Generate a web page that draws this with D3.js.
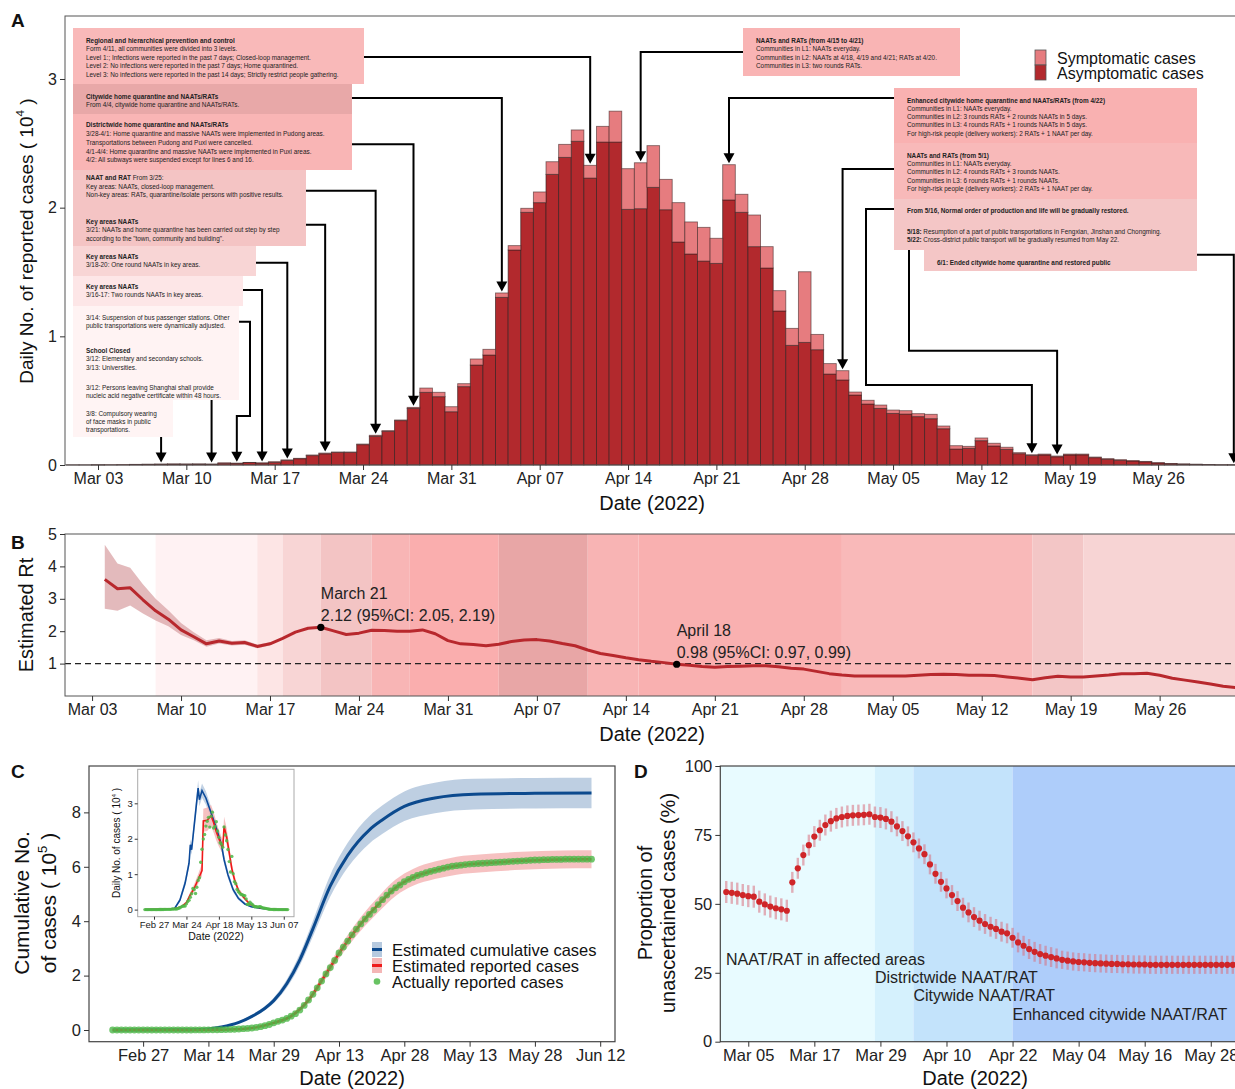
<!DOCTYPE html>
<html>
<head>
<meta charset="utf-8">
<script src="https://cdn.jsdelivr.net/npm/d3@7"></script>
<style>
body { margin: 0; background: #fff; }
svg { display: block; font-family: "Liberation Sans", Arial, sans-serif; }
</style>
</head>
<body>
<script>
// ---------- data ----------
// panel A: daily reported cases (10^4), one value per day from caseStart
var caseStart = '2022-03-01';
var asymptomatic = [0.001,0.001,0.001,0.002,0.003,0.004,0.005,0.006,0.007,0.006,0.007,
  0.006,0.013,0.013,0.019,0.015,0.020,0.037,0.049,0.073,0.087,0.098,0.098,0.158,0.223,0.262,0.345,0.440,0.565,0.531,0.414,
  0.609,0.777,0.855,1.303,1.671,1.964,2.039,2.259,2.391,2.516,2.230,2.510,2.510,1.987,1.992,2.158,1.984,1.733,1.640,1.585,1.567,2.060,1.964,1.697,1.531,1.197,0.930,0.953,0.896,0.707,
  0.661,0.544,0.474,0.440,0.401,0.396,0.376,0.360,0.282,0.124,0.130,0.189,0.148,0.122,0.088,0.074,0.078,0.064,0.078,0.079,0.057,0.045,0.037,0.031,0.025,0.016,0.010,0.007,0.005,0.003,0.001,
  0.001];
var symptomatic = [0,0,0.001,0,0,0.001,0.001,0.001,0.001,0.002,0.001,
  0.001,0.004,0.001,0.001,0.001,0.006,0.002,0.003,0.005,0.006,0.003,0.003,0.005,0.008,0.005,0.005,0.008,0.033,0.034,0.039,
  0.023,0.047,0.044,0.034,0.034,0.031,0.083,0.098,0.101,0.088,0.099,0.122,0.240,0.316,0.357,0.324,0.236,0.306,0.249,0.262,0.195,0.274,0.140,0.246,0.166,0.158,0.132,0.549,0.119,0.081,
  0.072,0.023,0.029,0.026,0.026,0.026,0.023,0.034,0.021,0.026,0.015,0.021,0.021,0.016,0.008,0.006,0.007,0.006,0.007,0.006,0.005,0.004,0.004,0.003,0.003,0.002,0.002,0.001,0.001,0.001,0.001,
  0.001];
var ticksAB = ['2022-03-03','2022-03-10','2022-03-17','2022-03-24','2022-03-31','2022-04-07','2022-04-14','2022-04-21','2022-04-28','2022-05-05','2022-05-12','2022-05-19','2022-05-26'];
var ticksA_y = [0, 1, 2, 3];

// panel B: estimated Rt, daily from rtStart
var rtStart = '2022-03-04';
var rt = [3.60,3.31,3.34,2.97,2.63,2.37,2.04,1.83,1.61,1.70,1.63,1.65,1.53,1.61,1.78,1.97,2.09,2.12,2.01,1.90,1.94,2.03,2.02,2.00,2.00,2.04,1.92,1.71,
  1.61,1.59,1.55,1.60,1.68,1.73,1.74,1.70,1.62,1.55,1.42,1.31,1.25,1.18,1.12,1.07,1.03,0.98,0.95,0.91,0.89,0.91,0.92,0.93,0.93,0.90,0.86,0.83,0.76,0.69,
  0.65,0.62,0.62,0.62,0.62,0.62,0.64,0.66,0.67,0.66,0.64,0.64,0.63,0.59,0.55,0.50,0.56,0.61,0.59,0.59,0.62,0.65,0.69,0.69,0.70,0.64,0.55,0.49,0.43,0.37,0.30,
  0.26];
var rtLow  = [2.69,2.63,2.79,2.55,2.33,2.15,1.88,1.72,1.52,1.62,1.56,1.58,1.47,1.56];
var rtHigh = [4.67,4.09,3.96,3.45,3.00,2.65,2.25,1.97,1.72,1.79,1.70,1.72,1.59,1.66];
var ticksB_y = [1, 2, 3, 4, 5];
var rtPhaseStart = ['2022-03-08','2022-03-16','2022-03-18','2022-03-21','2022-03-25','2022-03-28','2022-04-04','2022-04-11','2022-04-15','2022-05-01','2022-05-16','2022-05-20'];
var rtPhaseEnd   = ['2022-03-16','2022-03-18','2022-03-21','2022-03-25','2022-03-28','2022-04-04','2022-04-11','2022-04-15','2022-05-01','2022-05-16','2022-05-20','2022-06-05'];
var rtMarks = [{date:'2022-03-21', value:2.12, label1:'March 21', label2:'2.12 (95%CI: 2.05, 2.19)'},
               {date:'2022-04-18', value:0.98, label1:'April 18', label2:'0.98 (95%CI: 0.97, 0.99)'}];

// panel C: cumulative cases (10^5)
var cumStart = '2022-02-20';
var reportedCum = [0,0,0,0,0,0,0,0,0,
  0,0,0,0,0,0,0,0.001,0.001,
  0.001,0.002,0.002,0.004,0.005,0.007,0.009,0.011,0.015,0.020,0.028,0.037,0.047,0.057,0.073,0.096,0.123,0.158,0.203,0.263,0.319,0.364,
  0.427,0.509,0.599,0.733,0.904,1.103,1.315,1.551,1.800,2.061,2.294,2.557,2.830,3.05,3.27,3.50,3.71,3.90,4.08,4.25,4.41,4.61,4.79,4.96,5.11,5.23,5.33,5.45,5.54,5.61,
  5.68,5.73,5.78,5.83,5.87,5.91,5.95,5.99,6.02,6.04,6.06,6.08,6.10,6.11,6.12,6.13,6.14,6.15,6.16,6.17,6.18,6.19,6.20,6.21,6.22,6.23,6.24,6.25,6.25,6.26,6.26,
  6.27,6.27,6.27,6.28,6.28,6.28,6.28,6.28,6.28,6.28];
var estCumDates = ['2022-02-20','2022-03-10','2022-03-14','2022-03-17','2022-03-21','2022-03-24','2022-03-27','2022-03-29','2022-04-01','2022-04-04','2022-04-07','2022-04-11','2022-04-15','2022-04-20','2022-04-23','2022-04-28','2022-05-05','2022-05-14','2022-05-28','2022-06-10'];
var estCum     = [0,0.01,0.04,0.11,0.28,0.50,0.80,1.08,1.70,2.58,3.72,5.30,6.42,7.36,7.73,8.22,8.53,8.67,8.70,8.71];
var estCumLow  = [0,0.005,0.03,0.09,0.24,0.45,0.73,0.98,1.55,2.37,3.44,4.91,5.97,6.86,7.21,7.68,7.97,8.11,8.14,8.15];
var estCumHigh = [0,0.015,0.05,0.13,0.32,0.56,0.88,1.19,1.86,2.80,4.01,5.70,6.88,7.87,8.26,8.77,9.09,9.24,9.26,9.27];
var repCumDates = ['2022-02-20','2022-03-14','2022-03-20','2022-03-25','2022-03-29','2022-04-02','2022-04-06','2022-04-10','2022-04-14','2022-04-18','2022-04-22','2022-04-26','2022-04-30','2022-05-05','2022-05-10','2022-05-16','2022-05-25','2022-06-03','2022-06-10'];
var repCum     = [0,0.004,0.027,0.096,0.26,0.51,1.10,2.06,3.05,3.90,4.61,5.23,5.61,5.87,6.04,6.13,6.22,6.27,6.28];
var repCumLow  = [0,0.003,0.02,0.08,0.23,0.46,1.00,1.90,2.85,3.65,4.33,4.93,5.30,5.55,5.71,5.80,5.89,5.94,5.95];
var repCumHigh = [0,0.006,0.035,0.11,0.29,0.56,1.20,2.22,3.25,4.15,4.89,5.53,5.92,6.19,6.37,6.46,6.55,6.60,6.61];
var ticksC = ['2022-02-27','2022-03-14','2022-03-29','2022-04-13','2022-04-28','2022-05-13','2022-05-28','2022-06-12'];
var ticksC_y = [0, 2, 4, 6, 8];

// panel C inset: daily cases (10^4)
var insetZerosBefore = [0,0,0,0,0,0,0,0,0];   // Feb 20 - Feb 28
var insetZerosAfter  = [0,0,0,0,0,0,0,0,0];   // Jun 2 - Jun 10
var estDailyDates = ['2022-02-20','2022-03-10','2022-03-15','2022-03-19','2022-03-23','2022-03-26','2022-03-27','2022-03-28','2022-03-31','2022-04-02','2022-04-03','2022-04-05','2022-04-08','2022-04-12','2022-04-16','2022-04-20','2022-04-22','2022-04-25','2022-04-29','2022-05-03','2022-05-08','2022-05-13','2022-05-21','2022-05-29','2022-06-09'];
var estDaily     = [0,0.01,0.04,0.27,0.75,1.31,1.83,1.69,2.73,3.43,3.10,3.36,3.15,2.73,2.30,1.83,1.41,0.98,0.56,0.32,0.16,0.08,0.03,0.01,0];
var estDailyLow  = [0,0.005,0.02,0.22,0.65,1.18,1.68,1.55,2.55,3.22,2.92,3.16,2.96,2.56,2.14,1.69,1.29,0.88,0.49,0.27,0.13,0.06,0.02,0.005,0];
var estDailyHigh = [0,0.02,0.06,0.33,0.87,1.45,1.98,1.85,2.92,3.65,3.30,3.56,3.34,2.90,2.46,1.97,1.54,1.09,0.64,0.38,0.20,0.10,0.04,0.015,0];
var repDailyDates = ['2022-02-20','2022-03-14','2022-03-20','2022-03-24','2022-03-27','2022-03-30','2022-04-02','2022-04-05','2022-04-06','2022-04-09','2022-04-12','2022-04-14','2022-04-16','2022-04-18','2022-04-21','2022-04-22','2022-04-24','2022-04-26','2022-04-28','2022-04-30','2022-05-03','2022-05-07','2022-05-12','2022-05-18','2022-05-25','2022-06-01','2022-06-10'];
var repDaily     = [0,0.02,0.08,0.20,0.42,0.60,0.85,1.10,2.50,2.52,2.65,2.45,2.20,2.00,1.75,2.35,2.05,1.60,1.15,0.85,0.55,0.35,0.15,0.07,0.03,0.01,0];
var repDailyLow  = [0,0.01,0.06,0.16,0.35,0.50,0.72,0.95,2.20,2.22,2.35,2.17,1.95,1.78,1.56,2.10,1.83,1.43,1.02,0.75,0.48,0.30,0.12,0.05,0.02,0.005,0];
var repDailyHigh = [0,0.03,0.10,0.25,0.50,0.72,1.00,1.30,2.85,2.88,2.95,2.75,2.48,2.25,1.96,2.62,2.30,1.80,1.30,0.97,0.63,0.41,0.19,0.09,0.04,0.015,0];
var ticksInset = ['2022-02-27','2022-03-24','2022-04-18','2022-05-13','2022-06-07'];
var ticksInset_y = [0, 1, 2, 3];

// panel D: proportion of unascertained cases (%)
var unascStart = '2022-03-01';
var unascertained = [54.3,54.0,53.7,53.2,52.8,52.6,50.8,49.8,49.0,48.4,48.0,47.5,
  57.8,62.9,67.7,71.3,74.4,76.7,78.6,80.0,81.0,81.5,81.9,82.1,82.2,82.3,82.5,81.5,81.3,80.8,79.8,
  78.1,76.4,74.5,72.3,70.1,68.0,64.3,60.9,58.0,55.6,53.2,51.0,48.6,46.9,45.2,43.9,42.7,41.7,40.9,39.9,39.3,37.7,36.0,34.8,33.6,32.6,31.8,31.2,30.7,30.2,
  29.7,29.4,29.1,28.9,28.8,28.6,28.5,28.4,28.3,28.2,28.2,28.1,28.1,28.0,28.0,28.0,27.9,27.9,27.9,27.9,27.9,27.9,27.9,27.9,27.9,27.9,27.9,27.9,27.9,27.9,27.9,
  27.9];
var unascErr = [4.0,4.0,4.0,4.0,4.0,4.0,4.0,4.0,4.0,4.0,4.0,4.0,
  3.8,3.8,3.8,3.8,3.8,3.8,3.8,3.8,3.8,3.8,3.8,3.8,3.8,3.8,3.8,3.8,3.8,3.8,3.8,
  3.6,3.6,3.6,3.6,3.6,3.6,3.6,3.6,3.6,3.6,3.6,3.6,3.6,3.6,3.6,3.6,3.6,3.6,3.6,3.6,3.6,3.6,3.6,3.6,3.6,3.6,3.6,3.6,3.6,3.6,
  3.3,3.3,3.3,3.3,3.3,3.3,3.3,3.3,3.3,3.3,3.3,3.3,3.3,3.3,3.3,3.3,3.3,3.3,3.3,3.3,3.3,3.3,3.3,3.3,3.3,3.3,3.3,3.3,3.3,3.3,3.3,
  3.3];
var testingPhaseStart = ['2022-02-20','2022-03-28','2022-04-04','2022-04-22'];
var testingPhaseEnd   = ['2022-03-28','2022-04-04','2022-04-22','2022-06-10'];
var testingPhaseLabel = ['NAAT/RAT in affected areas','Districtwide NAAT/RAT','Citywide NAAT/RAT','Enhanced citywide NAAT/RAT'];
var ticksD = ['2022-03-05','2022-03-17','2022-03-29','2022-04-10','2022-04-22','2022-05-04','2022-05-16','2022-05-28'];
var ticksD_y = [0, 25, 50, 75, 100];

// ---------- helpers ----------
var dayMs = 864e5;
var parse = d3.utcParse('%Y-%m-%d');
var fmt = d3.utcFormat('%b %d');
var intFmt = d3.format('d');
var shift = function(s, days){ return new Date(parse(s).getTime() + days * dayMs); };
var nth = function(start, i){ return shift(start, i); };

var svg = d3.select('body').append('svg').attr('width', 1235).attr('height', 1089);

var styleAxis = function(g, size){
    g.select('.domain').remove();
    g.selectAll('.tick line').attr('stroke', '#333').attr('stroke-width', 1);
    g.selectAll('.tick text').attr('fill', '#222').style('font-size', size + 'px')
        .style('font-family', '"Liberation Sans", Arial, sans-serif');
};

var panelLetter = function(t, x, y){
    svg.append('text').attr('x', x).attr('y', y).text(t)
        .style('font-size', '19px').style('font-weight', 'bold').attr('fill', '#111');
};

var supLabel = function(g, x, y, pre, sup, post, size, rotate){
    var t = g.append('text').attr('transform', 'translate(' + x + ',' + y + ')' + (rotate ? ' rotate(-90)' : ''))
        .attr('text-anchor', 'middle').style('font-size', size + 'px').attr('fill', '#111');
    t.append('tspan').text(pre);
    t.append('tspan').text(sup).attr('dy', -size * 0.45).style('font-size', (size * 0.62) + 'px');
    t.append('tspan').text(post).attr('dy', size * 0.45);
    return t;
};

// ================= PANEL A =================
var xA = d3.scaleUtc().domain([shift('2022-03-03', -2.615), shift('2022-03-03', 90.095)]).range([65, 1235]);
var yA = d3.scaleLinear().domain([0, 3.4896]).range([465, 16]);
var gA = svg.append('g');

var caseRows = asymptomatic.map(function(a, i){
    return {date: nth(caseStart, i), asym: a, sym: symptomatic[i]};
});
var bw = xA(shift('2022-03-04', 0)) - xA(parse('2022-03-03'));

gA.selectAll('.asym').data(caseRows).enter().append('rect')
    .attr('x', function(d){ return xA(d.date) - bw / 2; })
    .attr('width', bw)
    .attr('y', function(d){ return yA(d.asym); })
    .attr('height', function(d){ return yA(0) - yA(d.asym); })
    .attr('fill', '#b2292d').attr('stroke', '#3b2222').attr('stroke-opacity', 0.75).attr('stroke-width', 0.9);
gA.selectAll('.sym').data(caseRows).enter().append('rect')
    .attr('x', function(d){ return xA(d.date) - bw / 2; })
    .attr('width', bw)
    .attr('y', function(d){ return yA(d.asym + d.sym); })
    .attr('height', function(d){ return yA(d.asym) - yA(d.asym + d.sym); })
    .attr('fill', '#e67c7f').attr('stroke', '#3b2222').attr('stroke-opacity', 0.6).attr('stroke-width', 0.9);

gA.append('rect').attr('x', 65).attr('y', 16).attr('width', 1180).attr('height', 449)
    .attr('fill', 'none').attr('stroke', '#555').attr('stroke-width', 1);

var axA = gA.append('g').attr('transform', 'translate(0,465)')
    .call(d3.axisBottom(xA).tickValues(ticksAB.map(parse)).tickFormat(fmt).tickSize(5).tickPadding(3));
styleAxis(axA, 16);
var ayA = gA.append('g').attr('transform', 'translate(65,0)')
    .call(d3.axisLeft(yA).tickValues(ticksA_y).tickFormat(intFmt).tickSize(5).tickPadding(3));
styleAxis(ayA, 16);
gA.append('text').attr('x', 652).attr('y', 510).attr('text-anchor', 'middle')
    .style('font-size', '20px').attr('fill', '#111').text('Date (2022)');
supLabel(gA, 33, 241, 'Daily No. of reported cases ( 10', '4', ' )', 19, true);
panelLetter('A', 11, 27);

// legend A
gA.append('rect').attr('x', 1035).attr('y', 50).attr('width', 11).attr('height', 15)
    .attr('fill', '#e67c7f').attr('stroke', '#555').attr('stroke-width', 0.8);
gA.append('rect').attr('x', 1035).attr('y', 65).attr('width', 11).attr('height', 15)
    .attr('fill', '#b2292d').attr('stroke', '#555').attr('stroke-width', 0.8);
gA.append('text').attr('x', 1057).attr('y', 63.5).style('font-size', '16px').attr('fill', '#111').text('Symptomatic cases');
gA.append('text').attr('x', 1057).attr('y', 78.5).style('font-size', '16px').attr('fill', '#111').text('Asymptomatic cases');

// annotation boxes
var notes = [
  {x:73, y:28, w:291, h:56, fill:'#f9b9b9', tx:86, lines:[
    [40, [['b','Regional and hierarchical prevention and control']]],
    [48.3, [['','Form 4/11, all communities were divided into 3 levels.']]],
    [57, [['','Level 1:; Infections were reported in the past 7 days; Closed-loop management.']]],
    [65, [['','Level 2: No infections were reported in the past 7 days; Home quarantined.']]],
    [73.7, [['','Level 3: No infections were reported in the past 14 days; Strictly restrict people gathering.']]]]},
  {x:73, y:84, w:279, h:30, fill:'#e8a8a8', tx:86, lines:[
    [95.7, [['b','Citywide home quarantine and NAATs/RATs']]],
    [104, [['','From 4/4, citywide home quarantine and NAATs/RATs.']]]]},
  {x:73, y:114, w:279, h:56, fill:'#f9b5b5', tx:86, lines:[
    [124.3, [['b','Districtwide home quarantine and NAATs/RATs']]],
    [133.3, [['','3/28-4/1: Home quarantine and massive NAATs were implemented in Pudong areas.']]],
    [141.7, [['','Transportations between Pudong and Puxi were cancelled.']]],
    [150.7, [['','4/1-4/4: Home quarantine and massive NAATs were implemented in Puxi areas.']]],
    [159, [['','4/2: All subways were suspended except for lines 6 and 16.']]]]},
  {x:73, y:170, w:233, h:76, fill:'#f4c4c4', tx:86, lines:[
    [176.7, [['b','NAAT and RAT'],['',' From 3/25:']]],
    [186, [['','Key areas: NAATs, closed-loop management.']]],
    [194.3, [['','Non-key areas: RATs, quarantine/isolate persons with positive results.']]],
    [221, [['b','Key areas NAATs']]],
    [229.3, [['','3/21: NAATs and home quarantine has been carried out step by step']]],
    [237.7, [['','according to the "town, community and building".']]]]},
  {x:73, y:246, w:183, h:30, fill:'#f8d5d5', tx:86, lines:[
    [256, [['b','Key areas NAATs']]],
    [264.3, [['','3/18-20: One round NAATs in key areas.']]]]},
  {x:73, y:276, w:170, h:30, fill:'#fde6e7', tx:86, lines:[
    [286, [['b','Key areas NAATs']]],
    [294.3, [['','3/16-17: Two rounds NAATs in key areas.']]]]},
  {x:73, y:306, w:166, h:94, fill:'#fff3f3', tx:86, lines:[
    [316.7, [['','3/14: Suspension of bus passenger stations. Other']]],
    [325, [['','public transportations were  dynamically adjusted.']]],
    [350, [['b','School Closed']]],
    [358.3, [['','3/12: Elementary and secondary schools.']]],
    [366.7, [['','3/13: Universities.']]],
    [386.7, [['','3/12: Persons leaving Shanghai shall provide']]],
    [395, [['','nucleic acid negative certificate within 48 hours.']]]]},
  {x:73, y:400, w:100, h:37, fill:'#fff4f4', tx:86, lines:[
    [412.7, [['','3/8: Compulsory wearing']]],
    [420.7, [['','of face masks in public']]],
    [429.3, [['','transportations.']]]]},
  {x:743, y:28, w:217, h:48, fill:'#f9b4b4', tx:756, lines:[
    [40, [['b','NAATs and RATs (from 4/15 to 4/21)']]],
    [48.3, [['','Communities in L1: NAATs everyday.']]],
    [57, [['','Communities in L2: NAATs at 4/18, 4/19 and 4/21; RATs at 4/20.']]],
    [65, [['','Communities in L3: two rounds RATs.']]]]},
  {x:894, y:88, w:303, h:55, fill:'#f9b1b1', tx:907, lines:[
    [100, [['b','Enhanced citywide home quarantine and NAATs/RATs (from 4/22)']]],
    [108.3, [['','Communities in L1: NAATs everyday.']]],
    [116, [['','Communities in L2: 3 rounds RATs + 2 rounds NAATs in 5 days.']]],
    [124.3, [['','Communities in L3: 4 rounds RATs + 1 rounds NAATs in 5 days.']]],
    [132.7, [['','For high-risk people (delivery workers): 2 RATs + 1 NAAT per day.']]]]},
  {x:894, y:143, w:303, h:56, fill:'#f8b9b9', tx:907, lines:[
    [155, [['b','NAATs and RATs (from 5/1)']]],
    [163, [['','Communities in L1: NAATs everyday.']]],
    [171.3, [['','Communities in L2: 4 rounds RATs + 3 rounds NAATs.']]],
    [179.7, [['','Communities in L3: 6 rounds RATs + 1 rounds NAATs.']]],
    [188, [['','For high-risk people (delivery workers): 2 RATs + 1 NAAT per day.']]]]},
  {x:894, y:199, w:303, h:51, fill:'#f4c6c6', tx:907, lines:[
    [210, [['b','From 5/16, Normal order of production and life will be gradually restored.']]],
    [230.7, [['b','5/18:'],['',' Resumption of a part of public transportations in Fengxian, Jinshan and Chongming.']]],
    [239, [['b','5/22:'],['',' Cross-district public transport will be gradually resumed from May 22.']]]]},
  {x:924, y:250, w:273, h:21, fill:'#f4c6c6', tx:937, lines:[
    [261.7, [['b','6/1: Ended citywide home quarantine and restored public']]]]}
];

var gNotes = gA.append('g');
notes.forEach(function(n){
    gNotes.append('rect').attr('x', n.x).attr('y', n.y).attr('width', n.w).attr('height', n.h).attr('fill', n.fill);
    n.lines.forEach(function(l){
        var t = gNotes.append('text').attr('x', n.tx).attr('y', l[0]).attr('dominant-baseline', 'central')
            .style('font-family', '"Liberation Sans Narrow", "Arial Narrow", "Liberation Sans", sans-serif')
            .style('font-size', '6.4px').attr('fill', '#222');
        l[1].forEach(function(seg){
            t.append('tspan').text(seg[1]).style('font-weight', seg[0] === 'b' ? 'bold' : 'normal');
        });
    });
});

// connectors from boxes to bars
var arrows = [
  {date:'2022-04-11', route:[[364, 57]]},
  {date:'2022-04-04', route:[[352, 98]]},
  {date:'2022-03-28', route:[[352, 144.3]]},
  {date:'2022-03-25', route:[[306, 190.7]]},
  {date:'2022-03-21', route:[[306, 224.7]]},
  {date:'2022-03-18', route:[[256, 262.7]]},
  {date:'2022-03-16', route:[[243, 290]]},
  {date:'2022-03-14', route:[[239, 321.7], [250, 321.7], [250, 416]]},
  {date:'2022-03-12', route:[[null, 400]]},
  {date:'2022-03-08', route:[[null, 437]]},
  {date:'2022-04-15', route:[[743, 52]]},
  {date:'2022-04-22', route:[[894, 98]]},
  {date:'2022-05-01', route:[[894, 169]]},
  {date:'2022-05-16', route:[[894, 209], [866, 209], [866, 385]]},
  {date:'2022-05-18', route:[[909, 250], [909, 350.7]]},
  {date:'2022-06-01', route:[[1197, 254.7]]}
];
var gArrows = gA.append('g');
arrows.forEach(function(a){
    var i = Math.round((parse(a.date) - parse(caseStart)) / dayMs);
    var total = caseRows[i].asym + caseRows[i].sym;
    var ax = xA(parse(a.date));
    var tip = yA(total) - 1.5;
    var p = d3.path();
    a.route.forEach(function(pt, k){
        var px = pt[0] === null ? ax : pt[0];
        if (k === 0) p.moveTo(px, pt[1]); else p.lineTo(px, pt[1]);
    });
    var last = a.route[a.route.length - 1];
    p.lineTo(ax, last[1]);
    p.lineTo(ax, tip - 9);
    gArrows.append('path').attr('d', p.toString()).attr('fill', 'none')
        .attr('stroke', '#000').attr('stroke-width', 2);
    gArrows.append('path')
        .attr('d', 'M' + (ax - 5.5) + ',' + (tip - 10) + 'L' + (ax + 5.5) + ',' + (tip - 10) + 'L' + ax + ',' + tip + 'Z')
        .attr('fill', '#000');
});

// ================= PANEL B =================
var xB = d3.scaleUtc().domain([shift('2022-03-03', -2.13), shift('2022-03-03', 89.93)]).range([65, 1235]);
var yB = d3.scaleLinear().domain([0, 5]).range([696, 534]);
var gB = svg.append('g');

gB.selectAll('.phase').data(rtPhaseStart).enter().append('rect')
    .attr('x', function(d){ return xB(parse(d)); })
    .attr('width', function(d, i){ return Math.min(xB(parse(rtPhaseEnd[i])), 1236) - xB(parse(d)); })
    .attr('y', 534).attr('height', 162)
    .attr('fill', function(d, i){
        return ['#fff2f3','#fde5e5','#f8d5d5','#f3c4c4','#f8b5b5','#faaeae','#e8a6a6','#f8b4b4','#f9b0b0','#f9b9b9','#f3c6c6','#f7d4d4'][i];
    });

var rtRows = rt.map(function(v, i){ return {date: nth(rtStart, i), v: v}; });
var ciRows = rtLow.map(function(v, i){ return {date: nth(rtStart, i), lo: v, hi: rtHigh[i]}; });
gB.append('path').datum(ciRows)
    .attr('d', d3.area().x(function(d){ return xB(d.date); }).y0(function(d){ return yB(d.lo); }).y1(function(d){ return yB(d.hi); }))
    .attr('fill', '#d9a3a6').attr('opacity', 0.75);
gB.append('line').attr('x1', 65).attr('x2', 1235).attr('y1', yB(1)).attr('y2', yB(1))
    .attr('stroke', '#222').attr('stroke-width', 1.3).attr('stroke-dasharray', '6,4');
gB.append('path').datum(rtRows)
    .attr('d', d3.line().x(function(d){ return xB(d.date); }).y(function(d){ return yB(d.v); }))
    .attr('fill', 'none').attr('stroke', '#b8282d').attr('stroke-width', 3).attr('stroke-linejoin', 'round');

rtMarks.forEach(function(m){
    var mx = xB(parse(m.date)), my = yB(m.value);
    gB.append('circle').attr('cx', mx).attr('cy', my).attr('r', 3.6).attr('fill', '#000');
    gB.append('text').attr('x', mx).attr('y', my - 28).style('font-size', '16px').attr('fill', '#222').text(m.label1);
    gB.append('text').attr('x', mx).attr('y', my - 6).style('font-size', '16px').attr('fill', '#222').text(m.label2);
});

gB.append('rect').attr('x', 65).attr('y', 534).attr('width', 1180).attr('height', 162)
    .attr('fill', 'none').attr('stroke', '#555').attr('stroke-width', 1);
var axB = gB.append('g').attr('transform', 'translate(0,696)')
    .call(d3.axisBottom(xB).tickValues(ticksAB.map(parse)).tickFormat(fmt).tickSize(5).tickPadding(3));
styleAxis(axB, 16);
var ayB = gB.append('g').attr('transform', 'translate(65,0)')
    .call(d3.axisLeft(yB).tickValues(ticksB_y).tickFormat(intFmt).tickSize(5).tickPadding(3));
styleAxis(ayB, 16);
gB.append('text').attr('x', 652).attr('y', 741).attr('text-anchor', 'middle')
    .style('font-size', '20px').attr('fill', '#111').text('Date (2022)');
gB.append('text').attr('transform', 'translate(33,615) rotate(-90)').attr('text-anchor', 'middle')
    .style('font-size', '20px').attr('fill', '#111').text('Estimated Rt');
panelLetter('B', 11, 549);

// ================= PANEL C =================
var xC = d3.scaleUtc().domain([shift('2022-02-27', -12.43), shift('2022-02-27', 108.4)]).range([89, 615]);
var yC = d3.scaleLinear().domain([-0.43, 9.705]).range([1041.7, 766]);
var gC = svg.append('g');

var estCumRows = estCumDates.map(function(d, i){ return {date: parse(d), v: estCum[i], lo: estCumLow[i], hi: estCumHigh[i]}; });
var repCumRows = repCumDates.map(function(d, i){ return {date: parse(d), v: repCum[i], lo: repCumLow[i], hi: repCumHigh[i]}; });
var bandC = function(x, y){
    return d3.area().curve(d3.curveMonotoneX).x(function(d){ return x(d.date); })
        .y0(function(d){ return y(d.lo); }).y1(function(d){ return y(d.hi); });
};
var lineC = function(x, y){
    return d3.line().curve(d3.curveMonotoneX).x(function(d){ return x(d.date); }).y(function(d){ return y(d.v); });
};
gC.append('path').datum(estCumRows).attr('d', bandC(xC, yC)).attr('fill', '#b7cadf').attr('opacity', 0.9);
gC.append('path').datum(repCumRows).attr('d', bandC(xC, yC)).attr('fill', '#f4b6b6').attr('opacity', 0.85);
gC.append('path').datum(estCumRows).attr('d', lineC(xC, yC)).attr('fill', 'none').attr('stroke', '#0c4a8e').attr('stroke-width', 3);
gC.append('path').datum(repCumRows).attr('d', lineC(xC, yC)).attr('fill', 'none').attr('stroke', '#ee1c1c').attr('stroke-width', 2.5);
var cumRows = reportedCum.map(function(v, i){ return {date: nth(cumStart, i), v: v}; });
gC.selectAll('.cumdot').data(cumRows).enter().append('circle')
    .attr('cx', function(d){ return xC(d.date); }).attr('cy', function(d){ return yC(d.v); })
    .attr('r', 3.4).attr('fill', '#4db848').attr('fill-opacity', 0.8);

gC.append('rect').attr('x', 89).attr('y', 766).attr('width', 526).attr('height', 275.7)
    .attr('fill', 'none').attr('stroke', '#444').attr('stroke-width', 1.2);
var axC = gC.append('g').attr('transform', 'translate(0,1041.7)')
    .call(d3.axisBottom(xC).tickValues(ticksC.map(parse)).tickFormat(fmt).tickSize(5).tickPadding(3));
styleAxis(axC, 16.5);
var ayC = gC.append('g').attr('transform', 'translate(89,0)')
    .call(d3.axisLeft(yC).tickValues(ticksC_y).tickFormat(intFmt).tickSize(5).tickPadding(3));
styleAxis(ayC, 16.5);
gC.append('text').attr('x', 352).attr('y', 1085).attr('text-anchor', 'middle')
    .style('font-size', '20px').attr('fill', '#111').text('Date (2022)');
gC.append('text').attr('transform', 'translate(29,903) rotate(-90)').attr('text-anchor', 'middle')
    .style('font-size', '21px').attr('fill', '#111').text('Cumulative No.');
supLabel(gC, 56, 903, 'of cases ( 10', '5', ' )', 21, true);
panelLetter('C', 11, 778);

// legend C
var legC = gC.append('g');
legC.append('rect').attr('x', 372).attr('y', 942).attr('width', 10).attr('height', 15).attr('fill', '#b7cadf');
legC.append('line').attr('x1', 372).attr('x2', 382).attr('y1', 949.5).attr('y2', 949.5).attr('stroke', '#0c4a8e').attr('stroke-width', 3);
legC.append('rect').attr('x', 372).attr('y', 958).attr('width', 10).attr('height', 15).attr('fill', '#f4b6b6');
legC.append('line').attr('x1', 372).attr('x2', 382).attr('y1', 965.5).attr('y2', 965.5).attr('stroke', '#ee1c1c').attr('stroke-width', 3);
legC.append('circle').attr('cx', 377).attr('cy', 981.5).attr('r', 3.3).attr('fill', '#4db848').attr('fill-opacity', 0.85);
[['Estimated cumulative cases', 955.5], ['Estimated reported cases', 971.5], ['Actually reported cases', 987.5]].forEach(function(l){
    legC.append('text').attr('x', 392).attr('y', l[1]).style('font-size', '16.5px').attr('fill', '#111').text(l[0]);
});

// inset
var xI = d3.scaleUtc().domain([shift('2022-02-27', -12.57), shift('2022-02-27', 107.9)]).range([137.7, 294]);
var yI = d3.scaleLinear().domain([-0.2, 3.96]).range([916.7, 769.3]);
var gI = gC.append('g');
gI.append('rect').attr('x', 137.7).attr('y', 769.3).attr('width', 156.3).attr('height', 147.4)
    .attr('fill', '#fff').attr('stroke', '#aaa').attr('stroke-width', 1);
var estDailyRows = estDailyDates.map(function(d, i){ return {date: parse(d), v: estDaily[i], lo: estDailyLow[i], hi: estDailyHigh[i]}; });
var repDailyRows = repDailyDates.map(function(d, i){ return {date: parse(d), v: repDaily[i], lo: repDailyLow[i], hi: repDailyHigh[i]}; });
var bandI = d3.area().x(function(d){ return xI(d.date); }).y0(function(d){ return yI(d.lo); }).y1(function(d){ return yI(d.hi); });
var lineI = d3.line().x(function(d){ return xI(d.date); }).y(function(d){ return yI(d.v); });
gI.append('path').datum(estDailyRows).attr('d', bandI).attr('fill', '#b7cadf').attr('opacity', 0.85);
gI.append('path').datum(repDailyRows).attr('d', bandI).attr('fill', '#f4b6b6').attr('opacity', 0.85);
gI.append('path').datum(estDailyRows).attr('d', lineI).attr('fill', 'none').attr('stroke', '#0c4a9a').attr('stroke-width', 1.6);
gI.append('path').datum(repDailyRows).attr('d', lineI).attr('fill', 'none').attr('stroke', '#f01818').attr('stroke-width', 1.6);
var insetDaily = insetZerosBefore.concat(caseRows.map(function(d){ return d.asym + d.sym; }), insetZerosAfter);
gI.selectAll('.idot').data(insetDaily).enter().append('circle')
    .attr('cx', function(d, i){ return xI(nth(cumStart, i)); }).attr('cy', function(d){ return yI(d); })
    .attr('r', 1.7).attr('fill', '#4db848').attr('fill-opacity', 0.85);
var axI = gI.append('g').attr('transform', 'translate(0,916.7)')
    .call(d3.axisBottom(xI).tickValues(ticksInset.map(parse)).tickFormat(fmt).tickSize(3).tickPadding(2));
styleAxis(axI, 9.5);
var ayI = gI.append('g').attr('transform', 'translate(137.7,0)')
    .call(d3.axisLeft(yI).tickValues(ticksInset_y).tickFormat(intFmt).tickSize(3).tickPadding(2));
styleAxis(ayI, 9.5);
gI.append('text').attr('x', 216).attr('y', 940).attr('text-anchor', 'middle')
    .style('font-size', '10.5px').attr('fill', '#111').text('Date (2022)');
supLabel(gI, 120, 843, 'Daily No. of cases ( 10', '4', ' )', 10, true);

// ================= PANEL D =================
var xD = d3.scaleUtc().domain([shift('2022-03-05', -5.08), shift('2022-03-05', 88.4)]).range([720.3, 1235]);
var yD = d3.scaleLinear().domain([0, 100]).range([1041.7, 766]);
var gD = svg.append('g');
gD.selectAll('.tphase').data(testingPhaseStart).enter().append('rect')
    .attr('x', function(d){ return Math.max(xD(parse(d)), 720.3); })
    .attr('width', function(d, i){ return Math.min(xD(parse(testingPhaseEnd[i])), 1236) - Math.max(xD(parse(d)), 720.3); })
    .attr('y', 766).attr('height', 275.7)
    .attr('fill', function(d, i){ return ['#e8fbff','#d5f1fd','#c3e3fb','#aecdfa'][i]; });

var unRows = unascertained.map(function(v, i){ return {date: nth(unascStart, i), v: v, e: unascErr[i]}; });
gD.selectAll('.err').data(unRows).enter().append('line')
    .attr('x1', function(d){ return xD(d.date); }).attr('x2', function(d){ return xD(d.date); })
    .attr('y1', function(d){ return yD(d.v - d.e); }).attr('y2', function(d){ return yD(d.v + d.e); })
    .attr('stroke', '#d9707e').attr('stroke-opacity', 0.55).attr('stroke-width', 2.4);
gD.selectAll('.udot').data(unRows).enter().append('circle')
    .attr('cx', function(d){ return xD(d.date); }).attr('cy', function(d){ return yD(d.v); })
    .attr('r', 3.1).attr('fill', '#cf2528');

testingPhaseStart.forEach(function(s, i){
    var tx = Math.max(xD(parse(s)), 726);
    gD.append('text').attr('x', i === 0 ? 726 : tx).attr('y', [959.3, 977.7, 995.7, 1014.3][i])
        .attr('dominant-baseline', 'central').style('font-size', '16px').attr('fill', '#222').text(testingPhaseLabel[i]);
});

gD.append('rect').attr('x', 720.3).attr('y', 766).attr('width', 520).attr('height', 275.7)
    .attr('fill', 'none').attr('stroke', '#444').attr('stroke-width', 1.2);
var axD = gD.append('g').attr('transform', 'translate(0,1041.7)')
    .call(d3.axisBottom(xD).tickValues(ticksD.map(parse)).tickFormat(fmt).tickSize(5).tickPadding(3));
styleAxis(axD, 16.5);
var ayD = gD.append('g').attr('transform', 'translate(720.3,0)')
    .call(d3.axisLeft(yD).tickValues(ticksD_y).tickFormat(intFmt).tickSize(5).tickPadding(3));
styleAxis(ayD, 16.5);
gD.append('text').attr('x', 975).attr('y', 1085).attr('text-anchor', 'middle')
    .style('font-size', '20px').attr('fill', '#111').text('Date (2022)');
gD.append('text').attr('transform', 'translate(652,903) rotate(-90)').attr('text-anchor', 'middle')
    .style('font-size', '20px').attr('fill', '#111').text('Proportion of');
gD.append('text').attr('transform', 'translate(675,903) rotate(-90)').attr('text-anchor', 'middle')
    .style('font-size', '20px').attr('fill', '#111').text('unascertained cases (%)');
panelLetter('D', 634, 778);
</script>
</body>
</html>
